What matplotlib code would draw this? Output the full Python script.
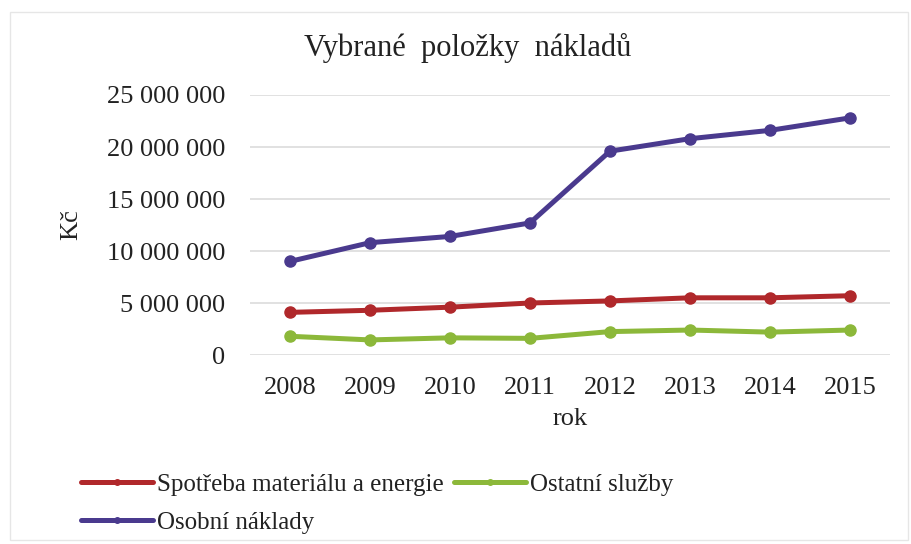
import matplotlib
matplotlib.use("Agg")
import matplotlib.pyplot as plt
from matplotlib.patches import Rectangle
from matplotlib.ticker import FuncFormatter

years = ["2008", "2009", "2010", "2011", "2012", "2013", "2014", "2015"]
spotreba = [4100000, 4300000, 4600000, 5000000, 5200000, 5500000, 5500000, 5700000]
ostatni = [1800000, 1450000, 1650000, 1600000, 2250000, 2400000, 2200000, 2400000]
osobni = [9000000, 10800000, 11400000, 12700000, 19600000, 20800000, 21600000, 22800000]

RED = "#b0282b"
GREEN = "#8cb83a"
PURPLE = "#4a3a8e"
TEXT = "#222222"

plt.rcParams["font.family"] = ["Liberation Serif", "DejaVu Serif"]

fig = plt.figure(figsize=(9.11, 5.44), dpi=100)
ax = fig.add_axes([250 / 911, 1 - 355 / 544, 640 / 911, 260 / 544])

# faint chart-area border
fig.patches.append(Rectangle((10 / 911, 1 - 540 / 544), 898 / 911, 528 / 544,
                             transform=fig.transFigure, fill=False,
                             edgecolor="#e6e6e6", linewidth=1))

x = range(len(years))
line_kw = dict(linewidth=3.6, marker="o", markersize=8, solid_capstyle="round")
h_sp, = ax.plot(x, spotreba, color=RED, label="Spotřeba materiálu a energie", **line_kw)
h_os, = ax.plot(x, ostatni, color=GREEN, label="Ostatní služby", **line_kw)
h_ob, = ax.plot(x, osobni, color=PURPLE, label="Osobní náklady", **line_kw)

ax.set_xlim(-0.5, len(years) - 0.5)
ax.set_ylim(0, 25000000)
ax.set_xticks(list(x))
ax.set_xticklabels(years)
ax.set_yticks([0, 5000000, 10000000, 15000000, 20000000, 25000000])
ax.yaxis.set_major_formatter(FuncFormatter(lambda v, _: f"{v:,.0f}".replace(",", " ")))
ax.tick_params(axis="both", length=0, labelsize=19, colors=TEXT)
ax.tick_params(axis="x", pad=16)
ax.tick_params(axis="y", pad=18)
for s in ax.spines.values():
    s.set_visible(False)
ax.yaxis.grid(True, color="#dcdcdc", linewidth=1.2)
ax.set_axisbelow(True)

ax.set_xlabel("rok", fontsize=19, color=TEXT)
ax.xaxis.set_label_coords(0.5, -0.205)
ax.set_ylabel("Kč", fontsize=19, color=TEXT)
ax.yaxis.set_label_coords(-0.262, 0.5)
fig.text(468 / 911, 1 - 48 / 544, "Vybrané  položky  nákladů", ha="center", va="center",
         fontsize=22, color=TEXT)

# legend: row 1 = Spotřeba, Ostatní služby; row 2 = Osobní náklady
leg = fig.legend([h_sp, h_ob, h_os],
                 [h_sp.get_label(), h_ob.get_label(), h_os.get_label()],
                 ncol=2, loc="upper left", bbox_to_anchor=(58 / 911, 1 - 451 / 544),
                 frameon=False, fontsize=18, handlelength=2.9, handletextpad=0.15,
                 columnspacing=0.4, labelspacing=0.62, markerscale=0.5)
for t in leg.get_texts():
    t.set_color(TEXT)

fig.savefig("out.png", dpi=100)
